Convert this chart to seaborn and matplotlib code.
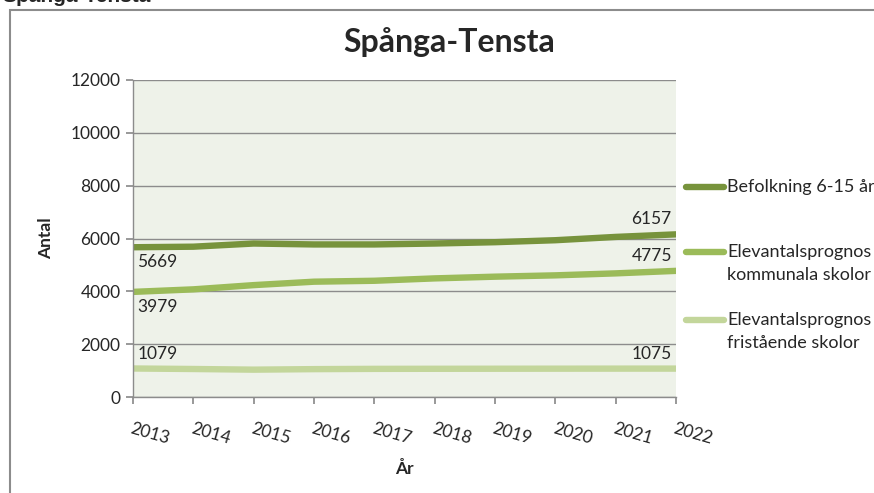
"""Elevantalsprognos Spånga-Tensta"""
import matplotlib
matplotlib.use("Agg")
import matplotlib.pyplot as plt
import seaborn as sns
import pandas as pd
from matplotlib.patches import Rectangle

years = [2013, 2014, 2015, 2016, 2017, 2018, 2019, 2020, 2021, 2022]
befolkning = [5669, 5690, 5810, 5775, 5775, 5810, 5860, 5935, 6060, 6157]
kommunala = [3979, 4075, 4235, 4365, 4400, 4490, 4555, 4605, 4680, 4775]
fristaende = [1079, 1060, 1035, 1055, 1065, 1068, 1070, 1072, 1074, 1075]

series_names = [
    "Befolkning 6-15 år",
    "Elevantalsprognos\nkommunala skolor",
    "Elevantalsprognos\nfristående skolor",
]
colors = ["#77933C", "#9BBB59", "#C3D69B"]

df = pd.DataFrame({
    "x": list(range(len(years))) * 3,
    "Antal": befolkning + kommunala + fristaende,
    "serie": [n for n in series_names for _ in years],
})

sns.set_theme(style="white")
plt.rcParams["font.family"] = ["Lato", "DejaVu Sans"]

FS = 12.5
fig = plt.figure(figsize=(8.74, 4.93), dpi=100)
W, H = 874, 493
ax = fig.add_axes([133 / W, 1 - 397 / H, (676 - 133) / W, (397 - 80) / H])
ax.set_facecolor("#EEF2E9")

sns.lineplot(data=df, x="x", y="Antal", hue="serie", palette=colors,
             linewidth=4.6, ax=ax, legend=False)

ax.set_xlim(0, len(years) - 1)
ax.set_ylim(0, 12000)
ax.set_yticks(range(0, 12001, 2000))
ax.yaxis.grid(True, color="#8C8C8C", linewidth=1)
ax.set_axisbelow(True)
for s in ["top", "right"]:
    ax.spines[s].set_visible(False)
for s in ["left", "bottom"]:
    ax.spines[s].set_color("#8C8C8C")
    ax.spines[s].set_linewidth(1)

ax.set_xticks(range(len(years)))
ax.set_xticklabels([str(y) for y in years], rotation=-16, ha="left",
                   va="top", rotation_mode="anchor", fontsize=FS)
ax.tick_params(axis="x", direction="out", length=5, color="#8C8C8C",
               bottom=True, pad=12)
ax.tick_params(axis="y", direction="out", length=5, color="#8C8C8C",
               left=True, labelsize=FS, pad=4)
ax.set_xlabel("År", fontsize=FS, fontweight="bold", labelpad=10)
ax.set_ylabel("Antal", fontsize=FS, fontweight="bold", labelpad=12)

fig.text(449 / W, 1 - 42 / H, "Spånga-Tensta", ha="center", va="center",
         fontsize=23, fontweight="bold")

# dataetiketter vid start och slut
last = len(years) - 1
ax.annotate(str(befolkning[0]), (0, befolkning[0]), xytext=(3, -5),
            textcoords="offset points", ha="left", va="top", fontsize=FS)
ax.annotate(str(kommunala[0]), (0, kommunala[0]), xytext=(3, -5),
            textcoords="offset points", ha="left", va="top", fontsize=FS)
ax.annotate(str(fristaende[0]), (0, fristaende[0]), xytext=(3, 5),
            textcoords="offset points", ha="left", va="bottom", fontsize=FS)
for vals in (befolkning, kommunala, fristaende):
    ax.annotate(str(vals[last]), (last, vals[last]), xytext=(-3, 5),
                textcoords="offset points", ha="right", va="bottom",
                fontsize=FS)

# legend till höger
for name, col, yp in zip(series_names, colors, [187, 252, 320]):
    fig.add_artist(plt.Line2D([686 / W, 724 / W], [1 - yp / H, 1 - yp / H],
                              color=col, linewidth=4.6,
                              solid_capstyle="round"))
    for i, ln in enumerate(name.split("\n")):
        fig.text(727 / W, 1 - (yp + i * 23) / H, ln, ha="left",
                 va="center", fontsize=13)

# ram runt diagrammet och avskuren rubrik ovanför
fig.add_artist(Rectangle((10 / W, -0.01), 1, 1 - 10 / H + 0.01,
                         transform=fig.transFigure, fill=False,
                         edgecolor="#8C8C8C", linewidth=1.5))
fig.text(2 / W, 1 - 2 / H, "Spånga-Tensta", ha="left", va="baseline",
         fontsize=15, fontweight="bold", family="Liberation Sans")

fig.savefig("out.png", dpi=100)
